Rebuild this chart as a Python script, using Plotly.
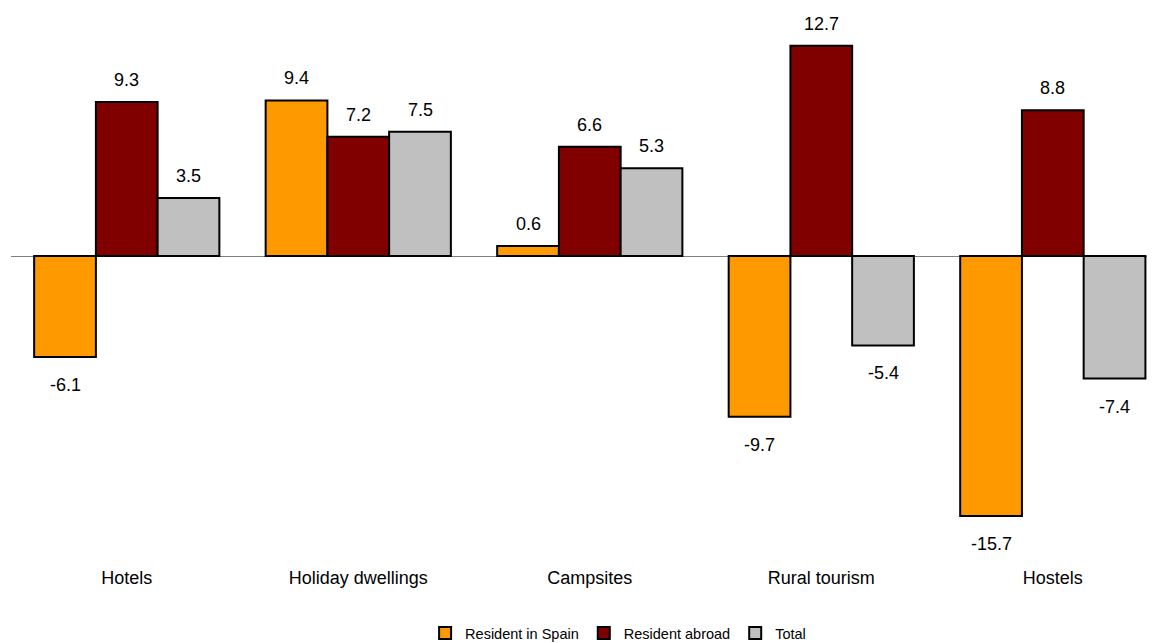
import plotly.graph_objects as go

categories = ["Hotels", "Holiday dwellings", "Campsites", "Rural tourism", "Hostels"]
series_names = ["Resident in Spain", "Resident abroad", "Total"]
resident_spain = [-6.1, 9.4, 0.6, -9.7, -15.7]
resident_abroad = [9.3, 7.2, 6.6, 12.7, 8.8]
total = [3.5, 7.5, 5.3, -5.4, -7.4]

colors = ["#FF9900", "#800000", "#C0C0C0"]
all_series = [resident_spain, resident_abroad, total]

FONT = "Liberation Sans"

x_idx = list(range(len(categories)))
fig = go.Figure()
for name, vals, col in zip(series_names, all_series, colors):
    fig.add_trace(go.Bar(
        x=x_idx, y=vals, name=name,
        marker=dict(color=col, line=dict(color="#000000", width=2)),
        hoverinfo="y",
    ))

# value labels
group_w = 0.8
bw = group_w / 3
for k, vals in enumerate(all_series):
    off = (k - 1) * bw
    for i, v in enumerate(vals):
        fig.add_annotation(
            x=i + off, y=v, xref="x", yref="y",
            text=f"{v:.1f}", showarrow=False,
            yshift=22 if v >= 0 else -28,
            font=dict(family=FONT, size=18, color="#000000"),
        )

fig.update_layout(
    width=1155, height=643,
    margin=dict(l=3, r=0, t=0, b=86),
    plot_bgcolor="white", paper_bgcolor="white",
    barmode="group", bargap=0.2, bargroupgap=0,
    font=dict(family=FONT, size=18, color="#000000"),
    showlegend=True,
    legend=dict(orientation="h", x=0.527, xanchor="center", y=-0.122, yanchor="middle",
                font=dict(size=14.5), itemwidth=30, traceorder="normal"),
    xaxis=dict(tickvals=x_idx, ticktext=categories, range=[-0.5, 4.476],
               showgrid=False, showline=False, ticks="", zeroline=False,
               tickfont=dict(size=18)),
    yaxis=dict(range=[-18.66, 14.98], showgrid=False, showticklabels=False,
               zeroline=True, zerolinecolor="#808080", zerolinewidth=1, showline=False),
)

fig.write_html("out.html")
